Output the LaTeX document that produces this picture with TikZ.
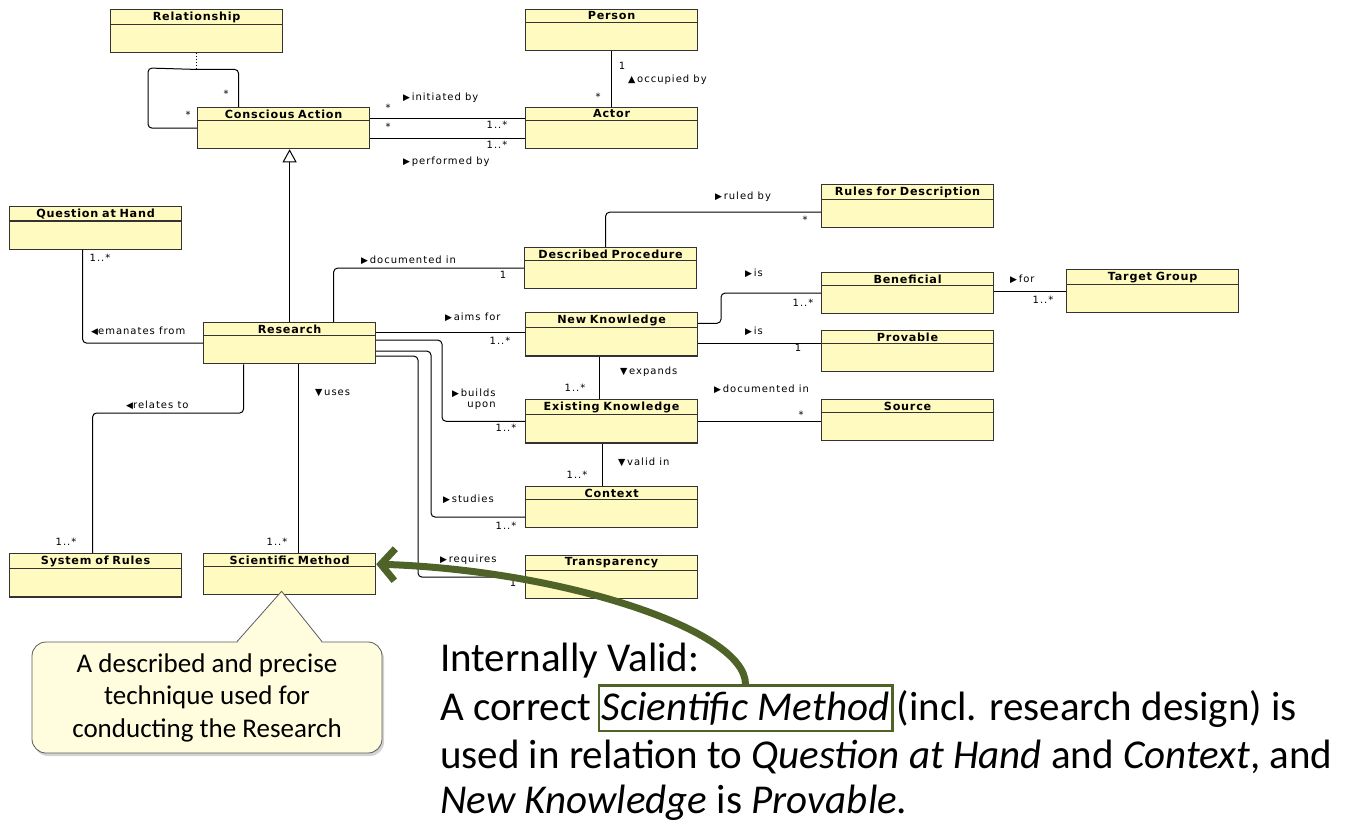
\documentclass[tikz,border=0pt]{standalone}
\usepackage{fontspec}
\setmainfont{Carlito}
\newfontfamily\umlfont[LetterSpace=7]{DejaVu Sans}
\newfontfamily\umllblfont[LetterSpace=10]{DejaVu Sans}
\newfontfamily\symfont{DejaVu Sans}
\usepackage{tikz}
\usetikzlibrary{shapes.multipart, arrows.meta, positioning, shadows}

\definecolor{umlfill}{RGB}{255,250,192}
\definecolor{notefill}{RGB}{255,253,222}
\definecolor{noteline}{RGB}{90,90,90}
\definecolor{markgreen}{RGB}{79,98,40}

\newcommand{\umlname}{\umlfont\bfseries\fontsize{11.2}{12.5}\selectfont}
\newcommand{\umllbl}{\umllblfont\fontsize{10}{11.5}\selectfont}
\newcommand{\rarr}{{\symfont\fontsize{9}{9}\selectfont ▶}\,}
\newcommand{\larr}{{\symfont\fontsize{9}{9}\selectfont ◀}}
\newcommand{\darr}{{\symfont\fontsize{9.5}{9}\selectfont ▼}\,}
\newcommand{\uarr}{{\symfont\fontsize{9.5}{9}\selectfont ▲}\,}

\tikzstyle{umlclass} = [rectangle split, rectangle split parts=2, draw=black!80,
                        line width=1.2pt, fill=umlfill, text width=166pt,
                        inner xsep=3pt, inner ysep=1.5pt, align=center,
                        font=\umlname, rectangle split empty part height=24pt,
                        anchor=north west]
\tikzstyle{assoc}    = [line width=1pt, rounded corners=4pt]
\tikzstyle{gen}      = [line width=1pt, -{Triangle[open, length=13pt, width=14pt]}]
\tikzstyle{lbl}      = [font=\umllbl, inner sep=0pt, anchor=west]
\tikzstyle{mult}     = [font=\umllbl, inner sep=0pt]
\tikzstyle{note}     = [draw=noteline, line width=0.8pt, fill=notefill,
                        rounded corners=14pt, minimum width=350pt,
                        minimum height=111pt, align=center,
                        font=\fontsize{27}{32.5}\selectfont,
                        drop shadow={opacity=0.35, shadow xshift=2pt, shadow yshift=-3pt}]
\tikzstyle{bigtext}  = [font=\fontsize{41}{48}\selectfont, inner sep=0pt, anchor=base west]
\tikzstyle{greenarrow} = [markgreen, line width=7pt,
                        -{Straight Barb[length=14pt, width=32pt]}]

\begin{document}
\begin{tikzpicture}[x=1pt, y=-1pt]
  \useasboundingbox (0,0) rectangle (1370,824);

  % Classes
  \node[umlclass] (rel)      at (110,9)   {Relationship};
  \node[umlclass] (ca)       at (197,107) {Conscious Action};
  \node[umlclass] (person)   at (525,9)   {Person};
  \node[umlclass] (actor)    at (525,107) {Actor};
  \node[umlclass] (qah)      at (9,206)   {Question at Hand};
  \node[umlclass] (research) at (203,322) {Research};
  \node[umlclass] (dproc)    at (524,247) {Described Procedure};
  \node[umlclass] (rules)    at (821,184) {Rules for Description};
  \node[umlclass] (newk)     at (525,312) {New Knowledge};
  \node[umlclass] (benef)    at (821,272) {Beneficial};
  \node[umlclass] (prov)     at (821,330) {Provable};
  \node[umlclass] (tgroup)   at (1066,269) {Target Group};
  \node[umlclass] (exk)      at (525,399) {Existing Knowledge};
  \node[umlclass] (source)   at (821,399) {Source};
  \node[umlclass] (context)  at (525,486) {Context};
  \node[umlclass] (transp)   at (525,555) {Transparency};
  \node[umlclass] (sysrules) at (9,553)   {System of Rules};
  \node[umlclass] (scimeth)  at (203,553) {Scientific Method};

  % Conscious Action self association with Relationship
  \path (rel.south) ++(0,16) coordinate (looptop);
  \draw[assoc] (ca.west) -| (148,68) -- (looptop) -| ([xshift=-45pt]ca.north);
  \draw[line width=1pt, dotted] (rel.south) -- (looptop);
  \node[mult] at (226,94) {*};
  \node[mult] at (188,115) {*};

  % Conscious Action -- Actor
  \draw[assoc] ([yshift=10pt]ca.east) -- ([yshift=10pt]ca.east -| actor.west);
  \draw[assoc] ([yshift=-10pt]ca.east) -- ([yshift=-10pt]ca.east -| actor.west);
  \node[lbl] at (403,98) {\rarr initiated by};
  \node[lbl] at (403,162) {\rarr performed by};
  \node[mult] at (388,108) {*};
  \node[mult] at (388,127) {*};
  \node[mult] at (497,125) {1..*};
  \node[mult] at (497,145) {1..*};

  % Person -- Actor
  \draw[assoc] (person.south) -- (actor.north);
  \node[mult] at (622,66) {1};
  \node[lbl] at (628,80) {\uarr occupied by};
  \node[mult] at (598,97) {*};

  % Generalisation
  \draw[gen] (research.north) -- (research.north |- ca.south);

  % Question at Hand
  \draw[assoc] ([xshift=-13pt]qah.south) |- (research.west);
  \node[lbl] at (91,331) {\larr emanates from};
  \node[mult] at (100,258) {1..*};

  % Described Procedure
  \draw[assoc] ([xshift=44pt]research.north) |- (dproc.west);
  \node[lbl] at (361,260) {\rarr documented in};
  \node[mult] at (503,275) {1};
  \draw[assoc] ([xshift=-5pt]dproc.north) |- ([yshift=-6pt]rules.west);
  \node[lbl] at (715,197) {\rarr ruled by};
  \node[mult] at (805,220) {*};

  % New Knowledge
  \draw[assoc] ([yshift=11pt]research.east) -- ([yshift=11pt]research.east -| newk.west);
  \node[lbl] at (445,317) {\rarr aims for};
  \node[mult] at (500,341) {1..*};
  \draw[assoc] ([yshift=11pt]newk.east) -| ([xshift=-100pt]benef.west) -- (benef.west);
  \node[lbl] at (745,273) {\rarr is};
  \node[mult] at (803,303) {1..*};
  \draw[assoc] ([yshift=-9pt]newk.east) -- ([yshift=-9pt]newk.east -| prov.west);
  \node[lbl] at (745,331) {\rarr is};
  \node[mult] at (798,348) {1};
  \draw[assoc] (tgroup.west -| benef.east) -- (tgroup.west);
  \node[lbl] at (1010,279) {\rarr for};
  \node[mult] at (1043,300) {1..*};

  % Existing Knowledge
  \draw[assoc] ([xshift=-12pt]newk.south) -- ([xshift=-12pt]exk.north);
  \node[lbl] at (620,372) {\darr expands};
  \node[mult] at (575,388) {1..*};
  \draw[assoc] ([yshift=3pt]research.east) -| ([xshift=-83pt]exk.west) -- (exk.west);
  \node[lbl, align=right] at (452,399) {\rarr builds\\upon};
  \node[mult] at (506,428) {1..*};
  \draw[assoc] (exk.east) -- (exk.east -| source.west);
  \node[lbl] at (714,389) {\rarr documented in};
  \node[mult] at (801,415) {*};

  % Context
  \draw[assoc] ([xshift=-9pt]exk.south) -- ([xshift=-9pt]context.north);
  \node[lbl] at (618,462) {\darr valid in};
  \node[mult] at (577,475) {1..*};
  \draw[assoc] ([yshift=-8pt]research.east) -| ([xshift=-94pt,yshift=-10pt]context.west)
               -- ([yshift=-10pt]context.west);
  \node[lbl] at (443,499) {\rarr studies};
  \node[mult] at (506,526) {1..*};

  % Transparency
  \draw[assoc] ([yshift=-13pt]research.east) -| ([xshift=-107pt]transp.west) -- (transp.west);
  \node[lbl] at (440,560) {\rarr requires};
  \node[mult] at (513,583) {1};

  % System of Rules and Scientific Method
  \draw[assoc] ([xshift=-46pt]research.south) |- ([xshift=-3pt,yshift=140pt]sysrules.north)
               -- ([xshift=-3pt]sysrules.north);
  \node[lbl] at (126,405) {\larr relates to};
  \node[mult] at (66,542) {1..*};
  \draw[assoc] ([xshift=9pt]research.south) -- ([xshift=9pt]scimeth.north);
  \node[lbl] at (315,393) {\darr uses};
  \node[mult] at (277,542) {1..*};

  % Callout
  \node[note] (note) at (207,697.5) {A described and precise\\technique used for\\conducting the Research};
  \coordinate (notetip) at ([xshift=-8pt,yshift=4pt]scimeth.south);
  \fill[notefill] ([xshift=30pt,yshift=-1.5pt]note.north) -- (notetip)
                  -- ([xshift=115pt,yshift=-1.5pt]note.north) -- cycle;
  \draw[noteline, line width=0.8pt] ([xshift=30pt]note.north) -- (notetip)
                  -- ([xshift=115pt]note.north);

  % Internally valid text
  \node[bigtext] (valid) at (440,671) {Internally Valid:};
  \node[bigtext] (corr) at (440,720) {A correct};
  \node[bigtext, draw=markgreen, line width=2.5pt, inner xsep=3pt, inner ysep=6pt]
        (hilite) at ([xshift=6pt]corr.base east) {\textit{Scientific Method}};
  \node[bigtext] (incl) at ([xshift=3pt]hilite.base east) {(incl. research design) is};
  \node[bigtext] (used) at (440,768) {used in relation to \textit{Question at Hand} and \textit{Context}, and};
  \node[bigtext] (provtext) at (440,813) {\textit{New Knowledge} is \textit{Provable}.};

  \draw[greenarrow] (hilite.north) .. controls ([yshift=55pt]hilite.north) and (560,570)
                    .. ([yshift=10pt]scimeth.east);

\end{tikzpicture}
\end{document}
